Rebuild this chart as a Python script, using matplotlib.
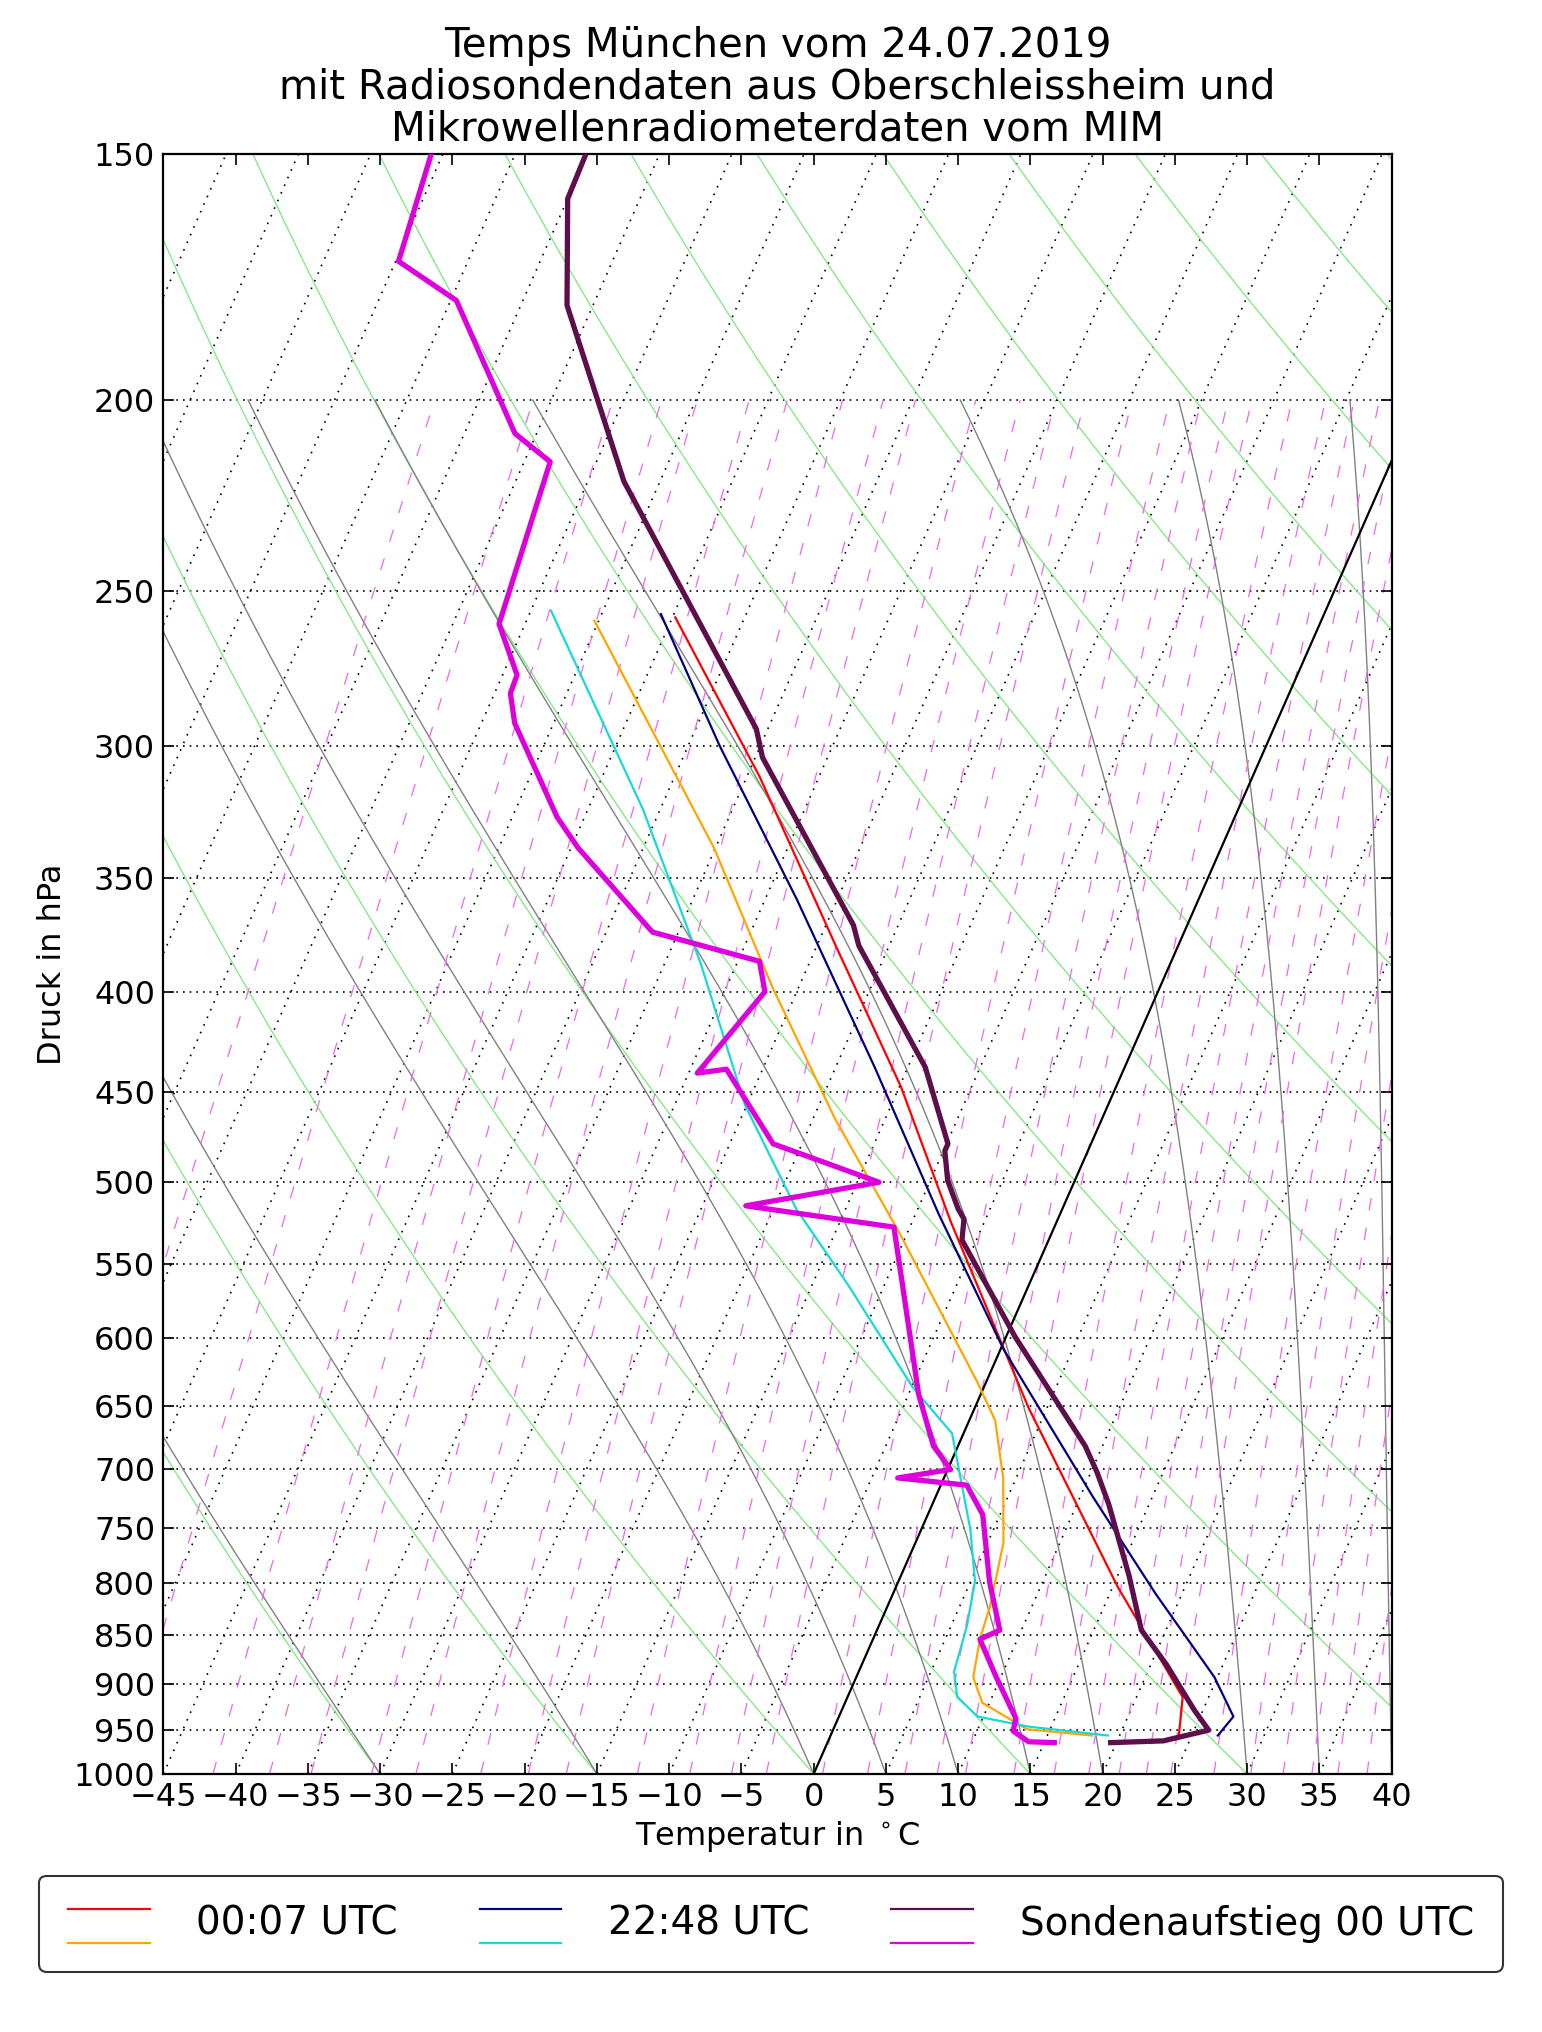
import numpy as np
import matplotlib
matplotlib.use("Agg")
import matplotlib.pyplot as plt
from matplotlib.lines import Line2D
from matplotlib.legend_handler import HandlerBase

# ---- data (pressure hPa, temperature degC) ----
snd_T_p = [964, 962, 950, 928, 880, 845, 793, 729, 702, 681, 599, 535, 522, 516, 499, 482, 478, 437, 379, 370, 304, 294, 220, 179, 158, 150]
snd_T   = [19.6, 23.2, 26.0, 24.4, 21.1, 18.3, 15.8, 12.2, 10.4, 8.8, 0.6, -6.0, -6.5, -7.2, -8.8, -9.9, -9.9, -13.8, -22.1, -23.1, -34.5, -35.8, -52.5, -61.8, -65.0, -65.1]
snd_Td_p = [964, 963, 951, 937, 893, 854, 845, 798, 738, 713, 707, 700, 681, 641, 527, 514, 500, 478, 438, 440, 400, 386, 373, 338, 326, 292, 282, 276, 260, 215, 208, 178, 170, 150]
snd_Td   = [15.7, 13.9, 12.5, 12.3, 9.7, 7.4, 8.5, 6.3, 3.8, 1.8, -3.2, 0.2, -1.7, -4.3, -11.1, -22.0, -13.5, -22.0, -27.5, -29.4, -27.2, -28.5, -36.8, -44.5, -46.9, -52.7, -53.9, -54.0, -56.8, -58.2, -61.5, -69.6, -74.8, -75.8]

mwr1_T_p = [956, 914, 867, 804, 651, 524, 447, 379, 311, 258]
mwr1_T   = [24.1, 23.2, 20.0, 15.4, 3.7, -7.3, -14.9, -23.7, -34.1, -44.8]
mwr1_Td_p = [956, 949, 920, 893, 854, 822, 763, 707, 661, 632, 531, 464, 398, 338, 259]
mwr1_Td   = [18.1, 13.4, 9.5, 8.1, 7.4, 7.1, 6.1, 4.1, 1.8, -0.6, -10.5, -18.5, -26.8, -35.1, -50.3]

mwr2_T_p = [956, 935, 893, 810, 723, 608, 519, 437, 359, 300, 257]
mwr2_T   = [26.8, 27.3, 24.8, 18.2, 10.9, 0.2, -8.4, -17.3, -27.8, -37.8, -45.9]
mwr2_Td_p = [956, 946, 935, 914, 887, 841, 798, 751, 671, 636, 564, 516, 457, 387, 323, 256]
mwr2_Td   = [19.2, 13.4, 9.6, 7.6, 6.6, 6.1, 5.3, 3.4, -0.8, -4.9, -12.5, -18.4, -25.1, -32.5, -41.2, -53.6]

labels = ["00:07 UTC", "22:48 UTC", "Sondenaufstieg 00 UTC"]
x_ticks = list(range(-45, 45, 5))
p_ticks = [150, 200, 250, 300, 350, 400, 450, 500, 550, 600, 650, 700, 750, 800, 850, 900, 950, 1000]
dry_start = list(range(-60, 215, 15))
moist_start = [-30, -15, 0, 5, 10, 15, 20, 30, 35, 40]
mix_ratios = [0.02, 0.05, 0.1, 0.15, 0.2, 0.3, 0.4, 0.6, 0.8, 1.0, 1.5, 2, 2.5, 3, 4, 5, 6, 7, 8, 10, 12, 14, 16, 18, 20, 24, 28, 32, 36, 40, 45, 50]

K = 26.0
def skew(T, p):
    return np.asarray(T) + K * np.log(1000.0 / np.asarray(p, dtype=float))

def es(T):
    return 6.112 * np.exp(17.67 * T / (T + 243.5))

fig = plt.figure(figsize=(15.42, 20.32), dpi=100)
ax = fig.add_axes([0.106, 0.127, 0.7965, 0.797])
ax.set_yscale("log")
ax.set_ylim(1000, 150)
ax.set_xlim(-45, 40)

pp = np.logspace(np.log10(1000), np.log10(150), 200)
pp2 = np.logspace(np.log10(1000), np.log10(200), 200)
for T in range(-150, 45, 5):
    if T == 0:
        ax.plot(skew(np.full_like(pp, 0.0), pp), pp, color="black", lw=1.6, zorder=2)
    else:
        ax.plot(skew(np.full_like(pp, T), pp), pp, color="black", lw=1.2, ls=(0, (1, 4)), zorder=1)
for p in p_ticks[1:-1]:
    ax.plot([-45, 40], [p, p], color="black", lw=1.2, ls=(0, (1, 3)), zorder=1)
for t0 in dry_start:
    th = t0 + 273.15
    T = th * (pp / 1000.0) ** 0.2857 - 273.15
    ax.plot(skew(T, pp), pp, color="#7be87b", lw=0.9, zorder=1)
Rd, Cp, Lv, eps = 287.04, 1005.7, 2.501e6, 0.622
for t0 in moist_start:
    n = 2000
    ps = np.logspace(np.log10(1000), np.log10(200), n)
    Ts = np.empty(n); Ts[0] = t0 + 273.15
    for i in range(1, n):
        T = Ts[i-1]; p = ps[i-1]
        e = es(T - 273.15); rs = eps * e / (p - e)
        dTdp = (Rd * T + Lv * rs) / (p * (Cp + Lv**2 * rs * eps / (Rd * T**2)))
        Ts[i] = T + dTdp * (ps[i] - p)
    ax.plot(skew(Ts - 273.15, ps), ps, color="#808080", lw=1.0, zorder=1)
for w in mix_ratios:
    wk = w / 1000.0
    e = pp2 * wk / (eps + wk)
    l = np.log(e / 6.112)
    Td = 243.5 * l / (17.67 - l)
    ax.plot(skew(Td, pp2), pp2, color="#ee66ee", lw=0.9, ls=(0, (10, 14)), zorder=1)

ax.plot(skew(mwr1_T, mwr1_T_p), mwr1_T_p, color="red", lw=1.6, zorder=3)
ax.plot(skew(mwr1_Td, mwr1_Td_p), mwr1_Td_p, color="orange", lw=1.6, zorder=3)
ax.plot(skew(mwr2_T, mwr2_T_p), mwr2_T_p, color="navy", lw=1.6, zorder=3)
ax.plot(skew(mwr2_Td, mwr2_Td_p), mwr2_Td_p, color="#18d8d8", lw=1.6, zorder=3)
ax.plot(skew(snd_T, snd_T_p), snd_T_p, color="#5c0f4a", lw=3.8, zorder=4)
ax.plot(skew(snd_Td, snd_Td_p), snd_Td_p, color="#dd00dd", lw=3.8, zorder=4)

ax.set_yticks(p_ticks)
ax.set_yticklabels([str(p) for p in p_ticks])
ax.yaxis.set_minor_locator(matplotlib.ticker.NullLocator())
ax.set_xticks(x_ticks)
ax.set_xticklabels([("\u2212" + str(-t)) if t < 0 else str(t) for t in x_ticks])
ax.tick_params(direction="in", top=True, right=True, labelsize=23, length=8, width=1.2, pad=6)
for s in ax.spines.values():
    s.set_linewidth(1.6)
ax.set_xlabel("Temperatur in $^\\circ$C", fontsize=23)
ax.set_ylabel("Druck in hPa", fontsize=23)
ax.set_title("Temps M\u00fcnchen vom 24.07.2019\nmit Radiosondendaten aus Oberschleissheim und\nMikrowellenradiometerdaten vom MIM",
             fontsize=29, linespacing=1.05, pad=10)

class PairHandler(HandlerBase):
    def create_artists(self, legend, orig, xd, yd, w, h, fs, trans):
        c1, c2 = orig
        a = Line2D([xd, xd + w], [yd + h * 0.95, yd + h * 0.95], color=c1, lw=1.6, transform=trans)
        b = Line2D([xd, xd + w], [yd - h * 0.3, yd - h * 0.3], color=c2, lw=1.6, transform=trans)
        return [a, b]

handles = [("red", "orange"), ("navy", "#18d8d8"), ("#5c0f4a", "#dd00dd")]
leg = fig.legend(handles, labels, handler_map={tuple: PairHandler()}, loc="lower center",
           bbox_to_anchor=(0.5, 0.02), ncol=3, fontsize=28, handlelength=2.1,
           columnspacing=2.1, borderpad=0.75, handletextpad=1.2, frameon=True,
           edgecolor="black", fancybox=True)
leg.get_frame().set_linewidth(1.5)

fig.savefig("out.png", dpi=100)
